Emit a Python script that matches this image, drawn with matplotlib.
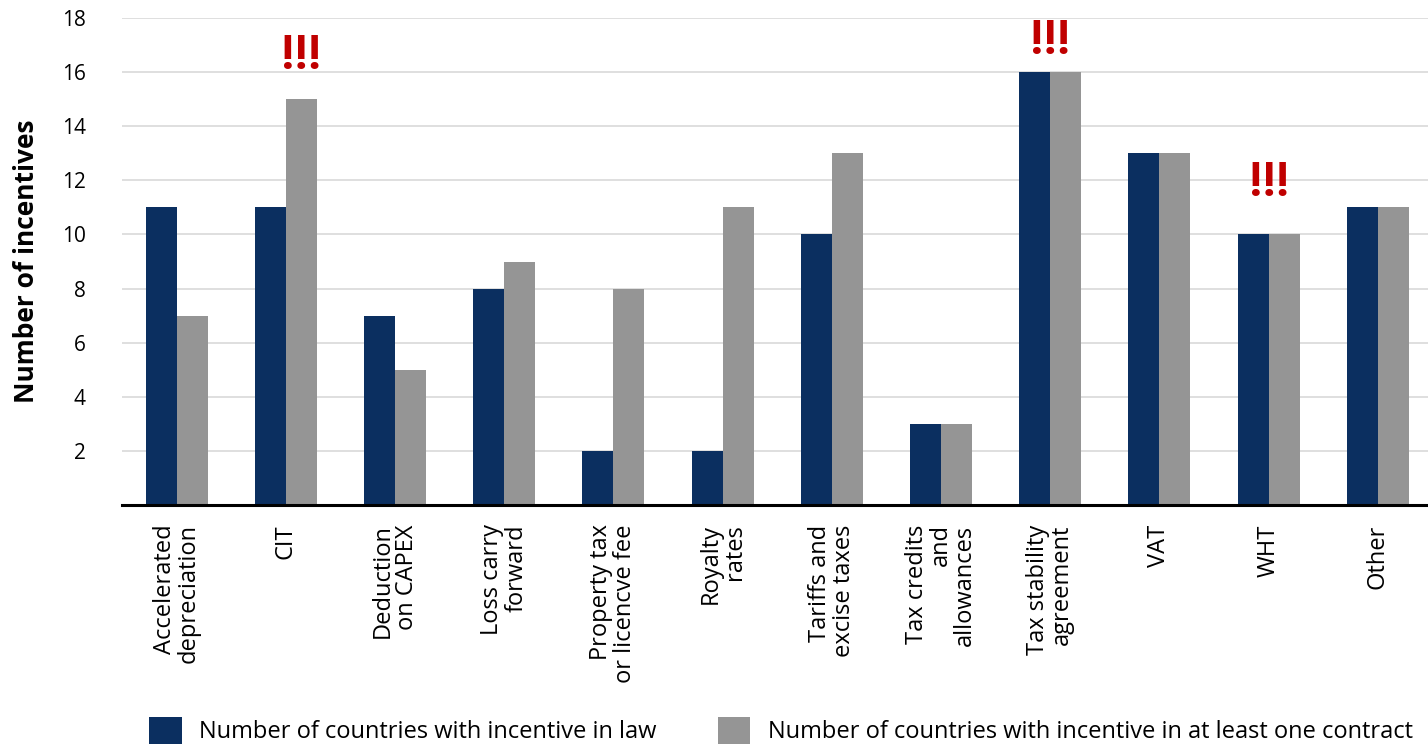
import matplotlib
matplotlib.use("Agg")
import matplotlib.pyplot as plt
import numpy as np

categories = ["Accelerated\ndepreciation", "CIT", "Deduction\non CAPEX", "Loss carry\nforward",
              "Property tax\nor licencve fee", "Royalty\nrates", "Tariffs and\nexcise taxes",
              "Tax credits\nand\nallowances", "Tax stability\nagreement", "VAT", "WHT", "Other"]
in_law = [11, 11, 7, 8, 2, 2, 10, 3, 16, 13, 10, 11]
in_contract = [7, 15, 5, 9, 8, 11, 13, 3, 16, 13, 10, 11]
yticks = [2, 4, 6, 8, 10, 12, 14, 16, 18]
series_names = ["Number of countries with incentive in law",
                "Number of countries with incentive in at least one contract"]
# (category index, x offset in bar widths, y base)
alerts = [(1, 1, 15.75), (8, 0, 16.3), (10, 0, 11.05)]

navy = "#0B2F60"
grey = "#959595"
red = "#C00000"

plt.rcParams['font.family'] = ['Open Sans', 'DejaVu Sans']

fig = plt.figure(figsize=(14.28, 7.45), dpi=100)
ax = fig.add_axes([122/1428, 1-505/745, 1-122/1428, (505-18)/745])

x = np.arange(len(categories))
w = 0.284
ax.bar(x - w/2, in_law, width=w, color=navy, label=series_names[0], zorder=3)
ax.bar(x + w/2, in_contract, width=w, color=grey, label=series_names[1], zorder=3)

ax.set_xlim(-0.5, 11.46)
ax.set_ylim(0, 18)
ax.set_yticks(yticks)
ax.set_yticklabels([str(t) for t in yticks], fontsize=15)
ax.tick_params(axis='y', length=0, pad=26)
ax.yaxis.grid(True, color="#d9d9d9", linewidth=1.2, zorder=0)
ax.set_axisbelow(True)
for s in ['left', 'right', 'top']:
    ax.spines[s].set_visible(False)
ax.spines['bottom'].set_linewidth(2.2)
ax.spines['bottom'].set_color('black')
ax.spines['bottom'].set_zorder(4)

ax.set_xticks(x)
ax.set_xticklabels(categories, rotation=90, fontsize=17, ha='center', va='top',
                   multialignment='right', linespacing=1.0)
ax.tick_params(axis='x', length=0, pad=14)

ax.set_ylabel("Number of incentives", fontsize=19, fontweight='bold', labelpad=16)

for idx, off, yb in alerts:
    ax.text(idx + off * w/2, yb, "!!!", color=red, fontsize=35, fontweight='bold',
            family='Roboto', ha='center', va='bottom', zorder=5)

fig.legend(loc='lower left', bbox_to_anchor=(140/1428, -0.012), ncol=2, frameon=False,
           fontsize=17, handlelength=1.36, handleheight=1.36, handletextpad=0.75,
           columnspacing=2.6, borderaxespad=0)

fig.savefig("out.png", dpi=100)
